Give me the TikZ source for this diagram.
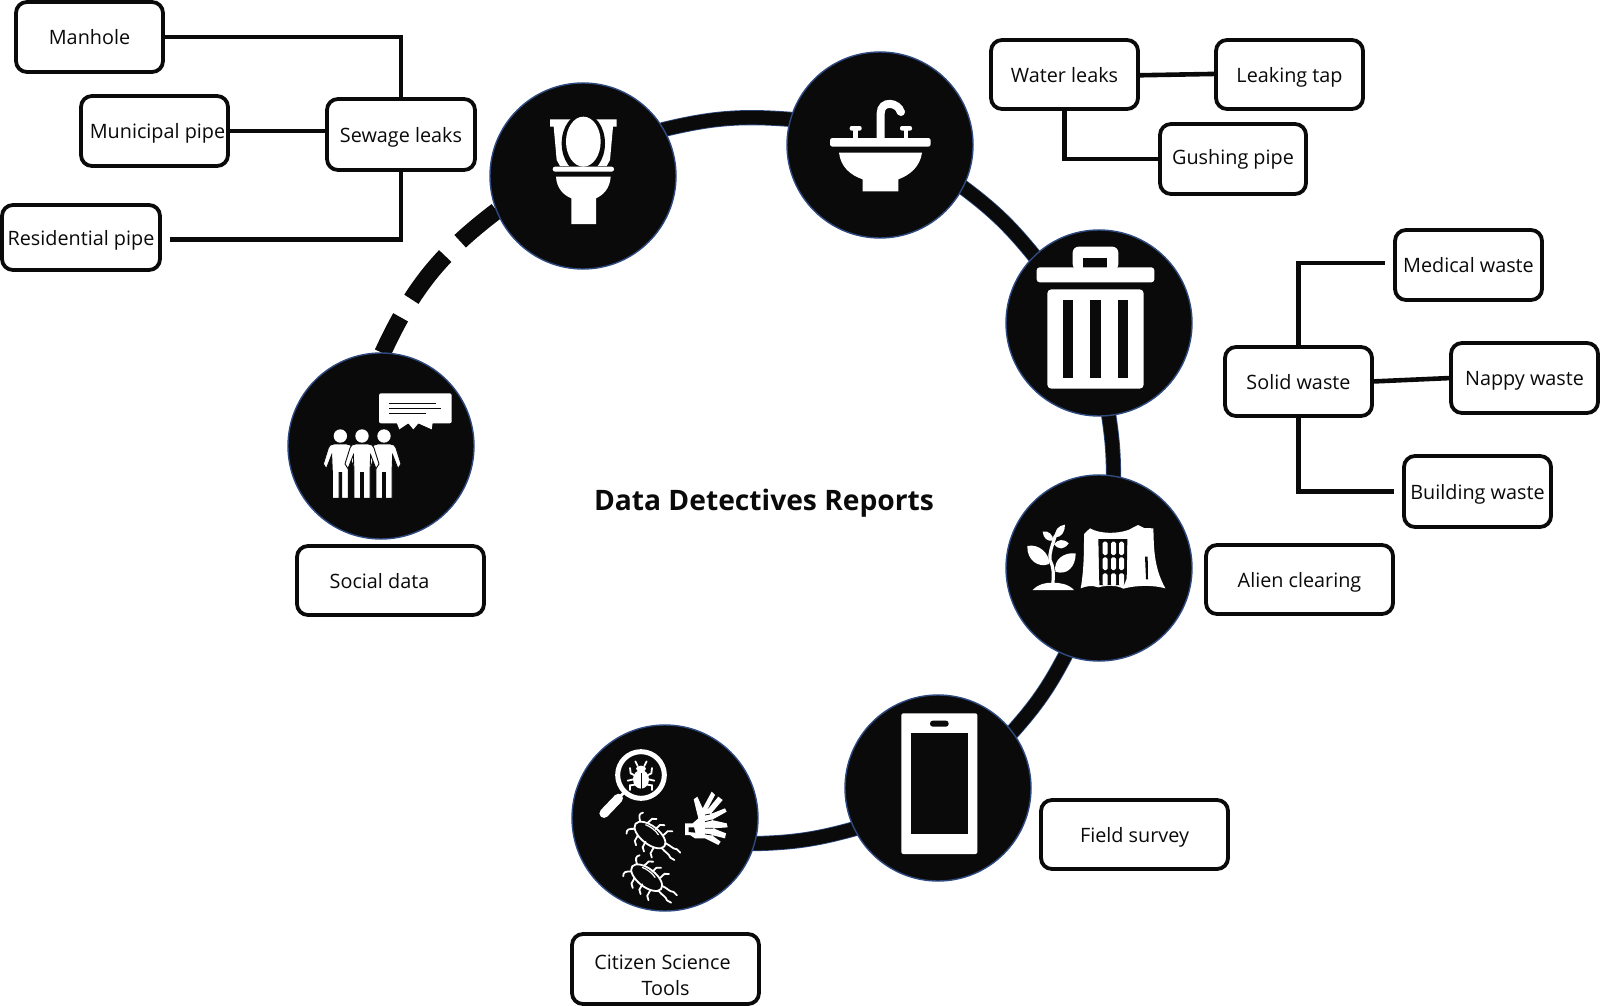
\documentclass[tikz,border=0pt]{standalone}
\usepackage{fontspec}
\setmainfont{Open Sans}
\usetikzlibrary{backgrounds,calc}
\definecolor{ink}{HTML}{0A0A0A}
\definecolor{ringblue}{HTML}{2F4A80}
\tikzset{
  bx/.style={draw=ink,fill=white,line width=1.9pt,rounded corners=5.5pt,inner sep=0pt,outer sep=0pt,font=\fontsize{9.9pt}{13.3pt}\selectfont,text=ink,text height=9.6pt,text depth=2pt},
  circ/.style={circle,draw=ringblue,fill=ink,line width=0.7pt,minimum size=93pt,inner sep=0pt,outer sep=0pt},
  conn/.style={draw=ink,line width=2.3pt},
  ring/.style={draw=ringblue,line width=0.4pt,double=ink,double distance=6.8pt,line cap=round},
  ringdash/.style={draw=ink,line width=8.5pt,dash pattern=on 27.5pt off 10.5pt,dash phase=7.5pt},
  wf/.style={fill=white,draw=none},
  bf/.style={fill=ink,draw=none},
  zoomed/.style={x=0.16667pt,y=-0.16667pt},
}
\newcommand{\bxnode}[7][]{\node[bx,minimum width={(#5-#3)*0.5pt},minimum height={(#6-#4)*0.5pt},#1] (#2) at ({(#3+#5)/2},{(#4+#6)/2}) {#7};}
\newcommand{\person}[1]{%
  \begin{scope}[shift={(#1,0)}]
    \path[wf,draw=ink,line width=0.45pt] (-19,312) -- (19,312) .. controls (29,312) and (33,316) .. (36,324) -- (51,372) -- (42,386) -- (26,345) -- (24,395) -- (24,475) -- (4,475) -- (4,398) -- (-4,398) -- (-4,475) -- (-24,475) -- (-24,395) -- (-26,345) -- (-42,386) -- (-51,372) -- (-36,324) .. controls (-33,316) and (-29,312) .. (-19,312) -- cycle;
    \fill[white] (0,288) circle[radius=20];
  \end{scope}}
\newcommand{\bugicon}[2]{%
  \begin{scope}[shift={(#1,#2)},rotate=-38]
    \draw[white,line width=0.9pt] (0,0) ellipse[x radius=55,y radius=27];
    \draw[white,line width=0.6pt] (-30,-16) .. controls (-15,-21) and (5,-21) .. (20,-16);
    \foreach \s in {1,-1}{
      \foreach \a in {-28,2,32}{
        \draw[white,line width=0.9pt,line cap=round] (\a,{\s*24}) -- ({\a+3},{\s*42}) -- ({\a+14},{\s*50});
      }
      \draw[white,line width=0.9pt,line cap=round] (-48,{\s*14}) .. controls (-62,{\s*24}) and (-66,{\s*30}) .. (-58,{\s*40});
      \draw[white,line width=0.9pt,line cap=round] (52,{\s*9}) .. controls (70,{\s*14}) and (78,{\s*8}) .. (90,{\s*16}) -- (104,{\s*14});
    }
  \end{scope}}
\begin{document}
\begin{tikzpicture}[x=0.5pt,y=-0.5pt]
\useasboundingbox (0,0) rectangle (1600,1006);
% boxes
\bxnode{manhole}{16}{2}{163}{72}{Manhole}
\bxnode{municipal}{81}{96}{228}{166}{\kern3pt Municipal pipe}
\bxnode{sewage}{327}{99}{475}{170}{Sewage leaks}
\bxnode{resid}{2}{205}{160}{270}{Residential pipe}
\bxnode{water}{991}{40}{1138}{109}{Water leaks}
\bxnode{tap}{1216}{40}{1363}{109}{Leaking tap}
\bxnode[text height=7.6pt]{gushing}{1160}{124}{1306}{194}{Gushing pipe}
\bxnode{medical}{1395}{230}{1542}{300}{Medical waste}
\bxnode{solid}{1225}{347}{1372}{416}{Solid waste}
\bxnode{nappy}{1451}{343}{1598}{413}{Nappy waste}
\bxnode{building}{1404}{456}{1551}{527}{Building waste}
\bxnode{alienbox}{1206}{545}{1393}{614}{Alien clearing}
\bxnode{fieldbox}{1041}{800}{1228}{869}{Field survey}
\bxnode{socialbox}{297}{546}{484}{615}{Social data\kern11pt}
\bxnode[align=center,text height=,text depth=]{citizenbox}{572}{934}{759}{1004}{\rule{0pt}{13.4pt}Citizen Science\kern3pt\\Tools}
\node[font=\fontsize{14.1pt}{16pt}\selectfont\bfseries,text=ink] (title) at (764,503) {Data Detectives Reports};
% circles
\node[circ] (toilet) at (583,176) {};
\node[circ] (sink) at (880,145) {};
\node[circ] (trash) at (1099,323) {};
\node[circ] (alien) at (1099,568) {};
\node[circ] (phone) at (938,788) {};
\node[circ] (citizen) at (665,818) {};
\node[circ] (social) at (381,446) {};
% ring
\begin{scope}[on background layer]
  \fill[white] (0,0) rectangle (1600,1006);
  \draw[ringdash] (social.89) to[bend left=14] (toilet.202);
  \draw[ring] (toilet.30) to[bend left=9] (sink.164);
  \draw[ring] (sink.-27) to[bend left=7] (trash.134);
  \draw[ring] (trash.-84) to[bend left=4] (alien.81);
  \draw[ring] (alien.249) to[bend left=7] (phone.37);
  \draw[ring] (phone.206) to[bend left=7] (citizen.-16);
\end{scope}
% connectors
\draw[conn] (manhole.east) -| (sewage.north);
\draw[conn] (municipal.east) -- (municipal.east -| sewage.west);
\draw[conn] ([xshift=5pt,yshift=-1pt]resid.east) -| (sewage.south);
\draw[conn] ([yshift=-0.4pt]water.east) -- ([yshift=0.3pt]tap.west);
\draw[conn] (water.south) |- (gushing.west);
\draw[conn] (solid.north) |- ([xshift=-5pt,yshift=1pt]medical.west);
\draw[conn] (solid.east) -- (nappy.west);
\draw[conn] (solid.south) |- ([xshift=-5pt]building.west);
% toilet icon
\begin{scope}[shift={(480,60)},zoomed]
  \begin{scope}
    \clip (150,150) rectangle (470,318);
    \path[wf] (210,178) -- (410,178) -- (410,200) -- (399,200) -- (390,300) -- (380,318) -- (240,318) -- (230,300) -- (221,200) -- (210,200) -- cycle;
    \fill[ink] (310,250) ellipse[x radius=65,y radius=90];
    \fill[white] (310,245) ellipse[x radius=52,y radius=75];
  \end{scope}
  \fill[white,rounded corners=1.2pt] (218,320) rectangle (402,335);
  \path[wf] (228,350) -- (392,350) .. controls (390,385) and (370,405) .. (348,415) -- (348,492) -- (274,492) -- (274,415) .. controls (250,405) and (230,385) .. (228,350) -- cycle;
  % sink icon
  \fill[white,rounded corners=1.2pt] (1050,234) rectangle (1352,260);
  \path[wf] (1077,278) -- (1326,278) .. controls (1320,320) and (1290,345) .. (1255,358) -- (1255,394) -- (1148,394) -- (1148,358) .. controls (1110,345) and (1082,320) .. (1077,278) -- cycle;
  \draw[white,line width=4pt] (1202,236) -- (1202,160) .. controls (1202,120) and (1255,125) .. (1263,158);
  \fill[white] (1263,156) circle[radius=12];
  \draw[white,line width=2.4pt] (1127,236) -- (1127,205);
  \draw[white,line width=2.4pt] (1278,236) -- (1278,205);
  \fill[white,rounded corners=1pt] (1109,198) rectangle (1145,212);
  \fill[white,rounded corners=1pt] (1260,198) rectangle (1296,212);
\end{scope}
% trash icon
\begin{scope}[shift={(990,230)},zoomed]
  \fill[white,rounded corners=3pt] (248,120) -- (248,50) -- (385,50) -- (385,120) -- cycle;
  \fill[ink] (280,83) rectangle (352,113);
  \fill[white,rounded corners=1.5pt] (140,112) rectangle (493,157);
  \fill[white,rounded corners=2pt] (172,178) -- (172,476) -- (461,476) -- (461,178) -- cycle;
  \fill[ink] (218,210) rectangle (250,444);
  \fill[ink] (301,210) rectangle (332,444);
  \fill[ink] (384,210) rectangle (415,444);
\end{scope}
% alien clearing icon
\begin{scope}[shift={(1010,510)},zoomed]
  \path[wf] (68,240) .. controls (85,222) and (105,218) .. (128,218) .. controls (150,218) and (175,222) .. (192,240) -- cycle;
  \draw[white,line width=1.6pt] (128,225) .. controls (132,190) and (130,170) .. (120,150) .. controls (118,125) and (126,110) .. (135,80) -- (148,60);
  \path[wf] (52,108) .. controls (85,100) and (120,130) .. (117,162) .. controls (85,175) and (50,150) .. (52,108) -- cycle;
  \path[wf] (197,130) .. controls (160,126) and (130,150) .. (136,185) .. controls (172,197) and (197,170) .. (197,130) -- cycle;
  \path[wf] (165,44) .. controls (145,46) and (132,62) .. (136,82) .. controls (155,82) and (165,65) .. (165,44) -- cycle;
  \path[wf] (98,65) .. controls (115,60) and (130,75) .. (130,92) .. controls (112,95) and (100,85) .. (98,65) -- cycle;
  \path[wf] (176,100) .. controls (160,85) and (145,88) .. (132,102) .. controls (145,120) and (162,120) .. (176,100) -- cycle;
  \path[wf] (212,235) .. controls (222,180) and (222,120) .. (222,72) -- (240,55) .. controls (270,72) and (320,72) .. (355,60) -- (384,45) -- (402,54) -- (430,55) .. controls (432,110) and (430,170) .. (466,235) .. controls (430,225) and (380,225) .. (340,236) .. controls (320,225) and (290,225) .. (265,232) .. controls (245,225) and (230,228) .. (212,235) -- cycle;
  \fill[ink] (265,87) -- (352,87) -- (350,205) -- (342,225) -- (268,225) -- cycle;
  \foreach \cx in {278,303,327}{
    \foreach \ya/\yb in {95/135,142/180,190/228}{
      \fill[white,rounded corners=0.8pt] (\cx,\ya) rectangle ({\cx+15},\yb);
    }
  }
  \fill[ink] (405,140) -- (413,140) -- (414,208) -- (408,208) -- cycle;
\end{scope}
% phone icon
\begin{scope}[shift={(560,700)},zoomed]
  \fill[white,rounded corners=1pt] (1024,40) rectangle (1252,462);
  \fill[ink] (1053,100) rectangle (1223,403);
  \fill[ink,rounded corners=1.4pt] (1110,62) rectangle (1166,80);
\end{scope}
% social icon
\begin{scope}[shift={(280,340)},zoomed]
  \fill[white,rounded corners=1pt] (297,160) rectangle (515,250);
  \path[wf] (350,248) -- (358,268) -- (385,250) -- (400,268) -- (415,250) -- (455,268) -- (458,248) -- cycle;
  \draw[ink,line width=0.8pt] (328,190) -- (467,190) (328,205) -- (484,205) (328,220) -- (437,220);
  \person{181}
  \person{312}
  \person{246}
\end{scope}
% citizen science icon
\begin{scope}[shift={(590,740)},zoomed]
  \draw[white,line width=2.5pt] (153,105) circle[radius=70];
  \draw[white,line width=1.4pt] (105,155) -- (85,175);
  \draw[white,line width=4.6pt,line cap=round] (85,175) -- (42,220);
  \fill[white] (153,118) ellipse[x radius=24,y radius=28];
  \fill[white] (153,86) ellipse[x radius=15,y radius=9];
  \draw[ink,line width=0.5pt] (153,100) -- (153,146);
  \draw[white,line width=0.9pt,line cap=round] (143,78) -- (136,64) (163,78) -- (170,64)
    (132,105) -- (122,100) -- (120,84) (174,105) -- (184,100) -- (186,84)
    (130,118) -- (113,122) (176,118) -- (193,122)
    (134,134) -- (120,136) -- (120,150) (172,134) -- (186,136) -- (186,150);
  \path[wf] (285,250) -- (308,250) -- (325,235) -- (311,178) -- (322,170) -- (338,205) -- (365,155) -- (375,165) -- (350,212) -- (385,170) -- (398,180) -- (362,222) -- (405,205) -- (410,215) -- (365,240) -- (410,250) -- (413,262) -- (370,265) -- (408,280) -- (405,295) -- (365,285) -- (392,305) -- (385,315) -- (345,295) -- (315,295) -- (300,285) -- (285,285) -- cycle;
  \fill[ink] (296,262) -- (312,262) -- (316,278) -- (296,276) -- cycle;
  \draw[ink,line width=0.4pt] (345,225) -- (360,222) (345,245) -- (365,240) (345,265) -- (370,265) (345,282) -- (365,285);
  \bugicon{180}{285}
  \bugicon{170}{413}
\end{scope}
\end{tikzpicture}
\end{document}
